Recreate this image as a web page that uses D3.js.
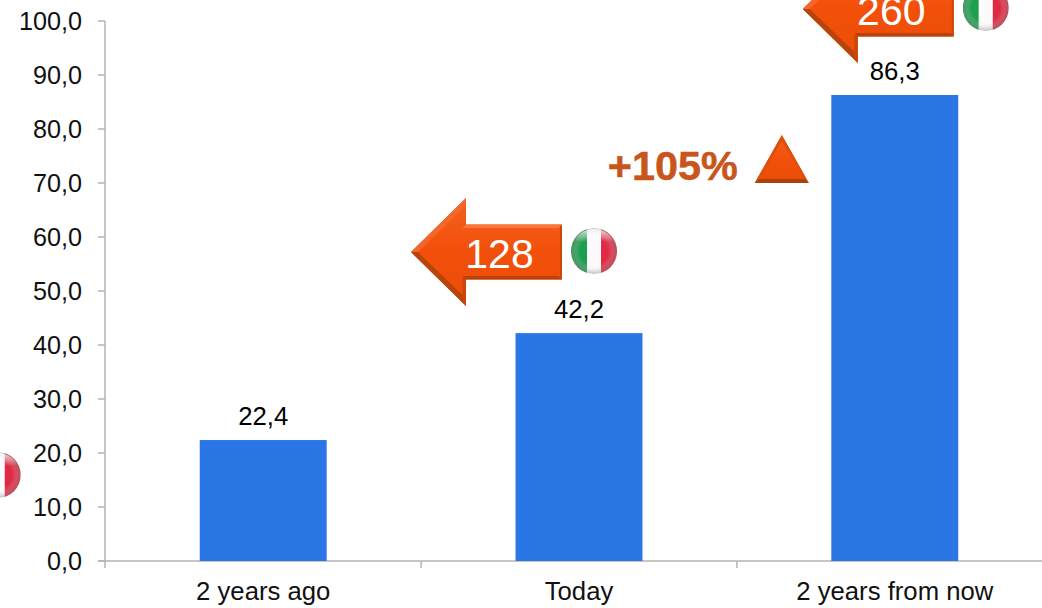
<!DOCTYPE html>
<html><head><meta charset="utf-8">
<script src="https://cdn.jsdelivr.net/npm/d3@7"></script>
<style>html,body{margin:0;background:#fff}svg{display:block}text{font-family:"Liberation Sans",Arial,sans-serif}</style>
</head><body><svg id="c" width="1042" height="608"></svg>
<script>
const categories = ["2 years ago", "Today", "2 years from now"];
const values = [22.4, 42.2, 86.3];
const valueLabels = ["22,4", "42,2", "86,3"];
const yTicks = [0, 10, 20, 30, 40, 50, 60, 70, 80, 90, 100];
const arrowCategories = ["Today", "2 years from now"];
const arrowLabels = ["128", "260"];
const growthLabel = "+105%";

const svg = d3.select("#c");
const x = d3.scaleBand().domain(categories).range([105, 1053]).paddingInner(0.598).paddingOuter(0.3);
const y = d3.scaleLinear().domain([0, 100]).range([561, 21]);
const fmt = d => d.toFixed(1).replace(".", ",");
const defs = svg.append("defs");

const fg = defs.append("linearGradient").attr("id", "arrowFill").attr("x1", 0).attr("y1", 0).attr("x2", 0).attr("y2", 1);
fg.append("stop").attr("offset", "0").attr("stop-color", "#f2601f");
fg.append("stop").attr("offset", "0.5").attr("stop-color", "#f2500a");
fg.append("stop").attr("offset", "1").attr("stop-color", "#ea4d08");
const shine = defs.append("radialGradient").attr("id", "gloss").attr("cx", "0.5").attr("cy", "0.5").attr("r", "0.5");
shine.append("stop").attr("offset", "0.62").attr("stop-color", "#fff").attr("stop-opacity", 0);
shine.append("stop").attr("offset", "1").attr("stop-color", "#777").attr("stop-opacity", 0.45);
const flagShine = defs.append("linearGradient").attr("id", "flagTop").attr("x1", 0).attr("y1", 0).attr("x2", 0).attr("y2", 1);
flagShine.append("stop").attr("offset", "0").attr("stop-color", "#fff").attr("stop-opacity", 0.75);
flagShine.append("stop").attr("offset", "0.4").attr("stop-color", "#fff").attr("stop-opacity", 0);
const soft = defs.append("filter").attr("id", "soft").attr("x", "-10%").attr("y", "-10%").attr("width", "120%").attr("height", "120%");
soft.append("feGaussianBlur").attr("stdDeviation", 0.5);

function flag(cx, cy) {
  const r = 23, id = "clip" + Math.round(cx) + "_" + Math.round(cy);
  defs.append("clipPath").attr("id", id).append("circle").attr("cx", cx).attr("cy", cy).attr("r", r);
  const g = svg.append("g").attr("clip-path", `url(#${id})`).attr("filter", "url(#soft)");
  g.append("rect").attr("x", cx - r).attr("y", cy - r).attr("width", 16).attr("height", 2 * r).attr("fill", "#1f9e4f");
  g.append("rect").attr("x", cx - r + 16).attr("y", cy - r).attr("width", 14).attr("height", 2 * r).attr("fill", "#fbfbfb");
  g.append("rect").attr("x", cx - r + 30).attr("y", cy - r).attr("width", 16).attr("height", 2 * r).attr("fill", "#de2c44");
  g.append("circle").attr("cx", cx).attr("cy", cy).attr("r", r).attr("fill", "url(#gloss)");
  g.append("ellipse").attr("cx", cx).attr("cy", cy - 6).attr("rx", 20).attr("ry", 16).attr("fill", "url(#flagTop)");
}

function arrow(right, tip, headX, cy, label) {
  const hh = 54, sh = 27.5, b = 3.5;
  const pts = [[tip, cy], [headX, cy - hh], [headX, cy - sh], [right, cy - sh], [right, cy + sh], [headX, cy + sh], [headX, cy + hh]];
  const line = d3.line();
  svg.append("path").attr("d", line(pts) + "Z").attr("fill", "url(#arrowFill)");
  // bevels: dark lower edges, lighter upper edge
  svg.append("path").attr("d", line([[tip, cy], [headX, cy + hh], [headX, cy + hh - b * 2.2], [tip + b * 2, cy]]) + "Z").attr("fill", "#b8440c");
  svg.append("path").attr("d", line([[headX, cy + sh], [right, cy + sh], [right - b, cy + sh - b], [headX - b, cy + sh - b]]) + "Z").attr("fill", "#b8440c");
  svg.append("path").attr("d", line([[headX, cy + hh], [headX, cy + sh], [headX - b, cy + sh - b], [headX - b, cy + hh - b * 2]]) + "Z").attr("fill", "#c8480a");
  svg.append("path").attr("d", line([[right, cy - sh], [right, cy + sh], [right - 2, cy + sh - 2], [right - 2, cy - sh + 2]]) + "Z").attr("fill", "#c8480a");
  svg.append("path").attr("d", line([[headX, cy - sh], [right, cy - sh], [right - b, cy - sh + b], [headX - b, cy - sh + b]]) + "Z").attr("fill", "#f6763c");
  svg.append("path").attr("d", line([[tip, cy], [headX, cy - hh], [headX, cy - hh + b * 2.2], [tip + b * 2, cy]]) + "Z").attr("fill", "#f4662a");
  svg.append("text").attr("x", (headX + right) / 2 - 14.5).attr("y", cy + 16).attr("text-anchor", "middle").attr("font-size", 41).attr("fill", "#fff").text(label);
}

// axes
const ax = svg.append("g").attr("stroke", "#b3b3b3").attr("stroke-width", 1.5).attr("fill", "none");
ax.append("line").attr("x1", x.range()[0]).attr("x2", x.range()[0]).attr("y1", y(100)).attr("y2", y(0) + 7);
ax.append("line").attr("x1", x.range()[0] - 7).attr("x2", 1042).attr("y1", y(0)).attr("y2", y(0));
ax.selectAll(".t").data(yTicks).join("line").attr("x1", x.range()[0] - 7).attr("x2", x.range()[0]).attr("y1", d => y(d)).attr("y2", d => y(d));
const step = x.step();
ax.selectAll(".s").data(categories).join("line")
  .attr("x1", d => x(d) + x.bandwidth() / 2 + step / 2).attr("x2", d => x(d) + x.bandwidth() / 2 + step / 2)
  .attr("y1", y(0)).attr("y2", y(0) + 7);

svg.selectAll(".yl").data(yTicks).join("text").attr("x", 82).attr("y", d => y(d) + 8.5)
  .attr("text-anchor", "end").attr("font-size", 25.2).attr("fill", "#111").text(fmt);

svg.selectAll(".bar").data(values).join("rect")
  .attr("x", (d, i) => x(categories[i])).attr("width", x.bandwidth())
  .attr("y", d => y(d)).attr("height", d => y(0) - y(d)).attr("fill", "#2b76e5");

svg.selectAll(".vl").data(values).join("text")
  .attr("x", (d, i) => x(categories[i]) + x.bandwidth() / 2)
  .attr("y", d => y(d) - 15).attr("text-anchor", "middle").attr("font-size", 25.7).attr("fill", "#000")
  .text((d, i) => valueLabels[i]);

svg.selectAll(".cl").data(categories).join("text")
  .attr("x", d => x(d) + x.bandwidth() / 2).attr("y", 600).attr("text-anchor", "middle").attr("font-size", 25.7).attr("fill", "#111").text(d => d);

// call-outs, anchored to their bars
const cTop = c => y(values[categories.indexOf(c)]);
const cMid = c => x(c) + x.bandwidth() / 2;
arrow(cMid(arrowCategories[0]) - 17, cMid(arrowCategories[0]) - 168, cMid(arrowCategories[0]) - 113, cTop(arrowCategories[0]) - 81, arrowLabels[0]);
flag(cMid(arrowCategories[0]) + 15, cTop(arrowCategories[0]) - 82);
arrow(cMid(arrowCategories[1]) + 59, cMid(arrowCategories[1]) - 92, cMid(arrowCategories[1]) - 37, cTop(arrowCategories[1]) - 86, arrowLabels[1]);
flag(cMid(arrowCategories[1]) + 91, cTop(arrowCategories[1]) - 87);
flag(x(categories[0]) - 202, y(values[0]) + 35);

const gx = cMid(arrowCategories[1]);
svg.append("text").attr("x", gx - 287).attr("y", 180).attr("font-size", 41).attr("font-weight", "bold").attr("fill", "#c8551c")
  .attr("stroke", "#c8551c").attr("stroke-width", 0.5)
  .attr("textLength", 130).attr("lengthAdjust", "spacingAndGlyphs").text(growthLabel);
const triLine = d3.line();
svg.append("path").attr("d", triLine([[gx - 113, 135], [gx - 86, 183], [gx - 140, 183]]) + "Z").attr("fill", "url(#arrowFill)");
svg.append("path").attr("d", triLine([[gx - 140, 183], [gx - 86, 183], [gx - 90, 179], [gx - 136, 179]]) + "Z").attr("fill", "#a8420f");
svg.append("path").attr("d", triLine([[gx - 113, 135], [gx - 86, 183], [gx - 90, 179], [gx - 113, 141]]) + "Z").attr("fill", "#d9500f");
svg.append("path").attr("d", triLine([[gx - 113, 135], [gx - 140, 183], [gx - 136, 179], [gx - 113, 141]]) + "Z").attr("fill", "#d9500f");
</script></body></html>
